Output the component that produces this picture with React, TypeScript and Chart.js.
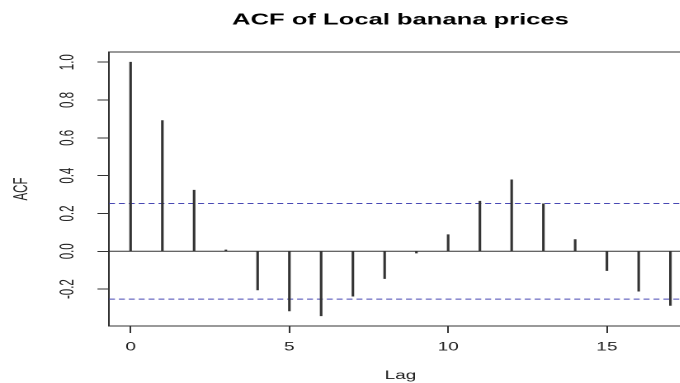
import React, { useEffect, useRef } from "react";
import { Chart, registerables } from "chart.js";

Chart.register(...registerables);

const chartTitle = "ACF of Local banana prices";
const xTitle = "Lag";
const yTitle = "ACF";

const lags = [0, 1, 2, 3, 4, 5, 6, 7, 8, 9, 10, 11, 12, 13, 14, 15, 16, 17];
const acfValues = [
  1.0, 0.691, 0.323, 0.007, -0.204, -0.315, -0.341, -0.237, -0.144, -0.009,
  0.088, 0.265, 0.378, 0.251, 0.062, -0.102, -0.211, -0.286,
];
const ciBound = 0.253;

const xTicks = [0, 5, 10, 15];
const yTicks = [-0.2, 0.0, 0.2, 0.4, 0.6, 0.8, 1.0];
const xRange = [-0.68, 17.68];
const yRange = [-0.395, 1.054];

const STRETCH = 1.65;
const FONT = "'Liberation Sans', Arial, Helvetica, sans-serif";

export default function App() {
  const ref = useRef<HTMLCanvasElement>(null);

  useEffect(() => {
    if (!ref.current) return;
    const hLine = (y: number) => [
      { x: xRange[0], y },
      { x: xRange[1], y },
    ];
    const chart = new Chart(ref.current, {
      type: "bar",
      data: {
        datasets: [
          {
            type: "bar",
            data: lags.map((l, i) => ({ x: l, y: acfValues[i] })),
            backgroundColor: "#333333",
            borderWidth: 0,
            barThickness: 0.9,
            grouped: false,
          } as any,
          {
            type: "line",
            data: hLine(0),
            borderColor: "#333333",
            borderWidth: 1,
            pointRadius: 0,
          } as any,
          {
            type: "line",
            data: hLine(ciBound),
            borderColor: "#4848b4",
            borderWidth: 1,
            borderDash: [3.6, 2.4],
            pointRadius: 0,
          } as any,
          {
            type: "line",
            data: hLine(-ciBound),
            borderColor: "#4848b4",
            borderWidth: 1,
            borderDash: [3.6, 2.4],
            pointRadius: 0,
          } as any,
        ],
      },
      options: {
        animation: false,
        responsive: true,
        maintainAspectRatio: false,
        devicePixelRatio: 2,
        events: [],
        layout: { padding: { left: 0, right: 4.6, top: 0, bottom: 0 } },
        plugins: {
          legend: { display: false },
          tooltip: { enabled: false },
          title: { display: false },
        },
        scales: {
          x: {
            type: "linear",
            position: "bottom",
            min: xRange[0],
            max: xRange[1],
            offset: false,
            afterBuildTicks: (s: any) => {
              s.ticks = xTicks.map((v) => ({ value: v }));
            },
            afterFit: (s: any) => {
              s.height = 57;
            },
            grid: {
              drawOnChartArea: false,
              drawTicks: true,
              tickLength: 7,
              tickColor: "#333333",
              tickWidth: 1,
              offset: false,
            },
            border: { display: true, color: "#333333", width: 1 },
            ticks: {
              padding: 7.4,
              color: "#222222",
              font: { family: FONT, size: 11.5 },
              maxRotation: 0,
              minRotation: 0,
              autoSkip: false,
              callback: (v: any) => String(v),
            },
            title: {
              display: true,
              text: xTitle,
              color: "#222222",
              font: { family: FONT, size: 11.5 },
              padding: { top: 0, bottom: 0.5 },
            },
          },
          x2: {
            type: "linear",
            position: "top",
            min: xRange[0],
            max: xRange[1],
            offset: false,
            afterFit: (s: any) => {
              s.height = 52;
            },
            grid: { drawOnChartArea: false, drawTicks: false },
            border: { display: true, color: "#333333", width: 1 },
            ticks: { display: false },
            title: {
              display: true,
              text: chartTitle,
              color: "#000000",
              font: { family: FONT, size: 15.5, weight: "bold" },
              padding: { top: 11, bottom: 0 },
            },
          },
          y: {
            type: "linear",
            position: "left",
            min: yRange[0],
            max: yRange[1],
            afterBuildTicks: (s: any) => {
              s.ticks = yTicks.map((v) => ({ value: v }));
            },
            afterFit: (s: any) => {
              s.width = 66.06;
            },
            grid: {
              drawOnChartArea: false,
              drawTicks: true,
              tickLength: 7,
              tickColor: "#333333",
              tickWidth: 1,
            },
            border: { display: true, color: "#333333", width: 1 },
            ticks: {
              padding: 8,
              color: "#222222",
              font: { family: FONT, size: 11.5 },
              minRotation: 90,
              maxRotation: 90,
              crossAlign: "center",
              autoSkip: false,
              callback: (v: any) => Number(v).toFixed(1),
            },
            title: {
              display: true,
              text: yTitle,
              color: "#222222",
              font: { family: FONT, size: 11.5 },
              padding: { top: 6.4, bottom: 0 },
            },
          },
        },
      } as any,
    });
    return () => chart.destroy();
  }, []);

  return (
    <div
      style={{
        position: "fixed",
        left: 0,
        top: 0,
        width: 680,
        height: 383,
        overflow: "hidden",
        background: "#ffffff",
      }}
    >
      <div
        style={{
          position: "absolute",
          left: 0,
          top: 0,
          width: 424,
          height: 383,
          transform: `scaleX(${STRETCH})`,
          transformOrigin: "0 0",
        }}
      >
        <canvas ref={ref} />
      </div>
    </div>
  );
}
